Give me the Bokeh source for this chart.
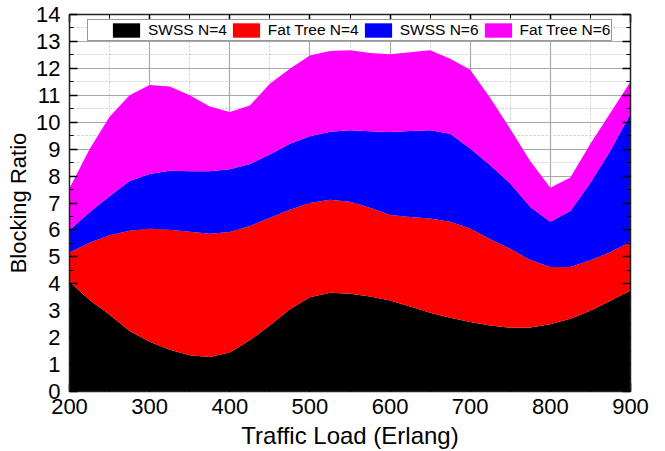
from bokeh.plotting import figure
from bokeh.models import (ColumnDataSource, Range1d, LinearAxis, SingleIntervalTicker,
                          CustomJSTickFormatter)
from bokeh.embed import file_html
from bokeh.resources import INLINE

# ---- data ----
traffic_load = [200, 225, 250, 275, 300, 325, 350, 375, 400, 425, 450, 475, 500, 525, 550,
                575, 600, 625, 650, 675, 700, 725, 750, 775, 800, 825, 850, 875, 900]
swss_n4 = [4.08, 3.40, 2.85, 2.25, 1.85, 1.55, 1.35, 1.28, 1.45, 1.90, 2.45, 3.05, 3.50, 3.67, 3.63,
           3.53, 3.38, 3.16, 2.92, 2.74, 2.58, 2.45, 2.37, 2.38, 2.50, 2.70, 3.00, 3.37, 3.75]
fat_tree_n4 = [1.08, 2.12, 2.95, 3.72, 4.19, 4.46, 4.58, 4.58, 4.47, 4.25, 4.00, 3.70, 3.50, 3.45, 3.42,
               3.29, 3.17, 3.32, 3.50, 3.56, 3.47, 3.20, 2.93, 2.50, 2.12, 1.92, 1.87, 1.81, 1.80]
swss_n6 = [0.84, 1.14, 1.45, 1.85, 2.04, 2.19, 2.25, 2.32, 2.33, 2.30, 2.35, 2.45, 2.48, 2.53, 2.65,
           2.84, 3.09, 3.19, 3.28, 3.27, 2.97, 2.75, 2.42, 1.97, 1.68, 2.08, 2.88, 3.77, 4.76]
fat_tree_n6 = [1.55, 2.34, 2.95, 3.18, 3.30, 3.13, 2.82, 2.40, 2.13, 2.17, 2.63, 2.79, 3.00, 2.99, 2.97,
               2.91, 2.88, 2.93, 2.97, 2.79, 2.93, 2.50, 2.03, 1.70, 1.27, 1.25, 1.45, 1.40, 1.19]
series_keys = ["swss_n4", "fat_tree_n4", "swss_n6", "fat_tree_n6"]
series_names = ["SWSS N=4", "Fat Tree N=4", "SWSS N=6", "Fat Tree N=6"]
series_colors = ["#000000", "#ff0000", "#0000ff", "#ff00ff"]
x_label = "Traffic Load (Erlang)"
y_label = "Blocking Ratio"

source = ColumnDataSource(dict(x=traffic_load, swss_n4=swss_n4, fat_tree_n4=fat_tree_n4,
                               swss_n6=swss_n6, fat_tree_n6=fat_tree_n6))

FONT = "Liberation Sans"

p = figure(width=665, height=451, x_range=Range1d(200, 900), y_range=Range1d(0, 14),
           output_backend="svg", toolbar_location=None,
           min_border_left=69, min_border_right=35, min_border_top=14, min_border_bottom=60)
p.outline_line_color = None
p.background_fill_color = "white"

p.varea_stack(stackers=series_keys, x="x", source=source,
              color=series_colors, legend_label=series_names)

xticker = SingleIntervalTicker(interval=100, num_minor_ticks=2)
yticker = SingleIntervalTicker(interval=1, num_minor_ticks=2)

for ax, tk in ((p.xaxis[0], xticker), (p.yaxis[0], yticker)):
    ax.ticker = tk
    ax.major_label_text_font = FONT
    ax.major_label_text_font_size = "22px"
    ax.major_label_text_color = "black"
    ax.axis_label_text_font = FONT
    ax.axis_label_text_font_style = "normal"
    ax.axis_label_text_color = "black"
    ax.major_tick_in = 8
    ax.major_tick_out = 0
    ax.minor_tick_in = 4
    ax.minor_tick_out = 0
    ax.major_tick_line_width = 1.5
    ax.axis_line_width = 1.5
    ax.axis_line_color = "#222222"

p.xaxis[0].axis_label = x_label
p.xaxis[0].axis_label_text_font_size = "24px"
p.xaxis[0].major_label_standoff = 7
p.xaxis[0].axis_label_standoff = 5
p.yaxis[0].axis_label = y_label
p.yaxis[0].axis_label_text_font_size = "22px"
p.yaxis[0].major_label_standoff = 9
p.yaxis[0].axis_label_standoff = 2

for loc, tk in (("above", xticker), ("right", yticker)):
    ax = LinearAxis(ticker=tk, formatter=CustomJSTickFormatter(code="return ''"),
                    major_label_text_font_size="0px", major_label_standoff=0,
                    major_tick_in=8, major_tick_out=0, minor_tick_in=4, minor_tick_out=0,
                    major_tick_line_width=1.5, axis_line_width=1.5, axis_line_color="#222222")
    p.add_layout(ax, loc)

p.xgrid.ticker = xticker
p.ygrid.ticker = yticker
for g in (p.xgrid, p.ygrid):
    g.grid_line_color = "#a8a8a8"
    g.grid_line_width = 1.2
    g.minor_grid_line_color = "#c8c8c8"
    g.minor_grid_line_dash = "2 2"
    g.minor_grid_line_width = 1

lg = p.legend[0]
lg.orientation = "horizontal"
lg.location = (18, 350)
lg.glyph_width = 34
lg.glyph_height = 18
lg.label_height = 18
lg.label_standoff = 5
lg.spacing = 2
lg.padding = 1
lg.margin = 0
lg.border_line_color = "#333333"
lg.border_line_width = 1.5
lg.background_fill_color = "white"
lg.background_fill_alpha = 1
lg.label_text_font = FONT
lg.label_text_font_size = "15.5px"
lg.label_text_color = "black"
lg.title = " "
lg.title_location = "left"
lg.title_standoff = 3
lg.title_text_font_size = "15px"

open("out.html", "w").write(file_html(p, INLINE))
